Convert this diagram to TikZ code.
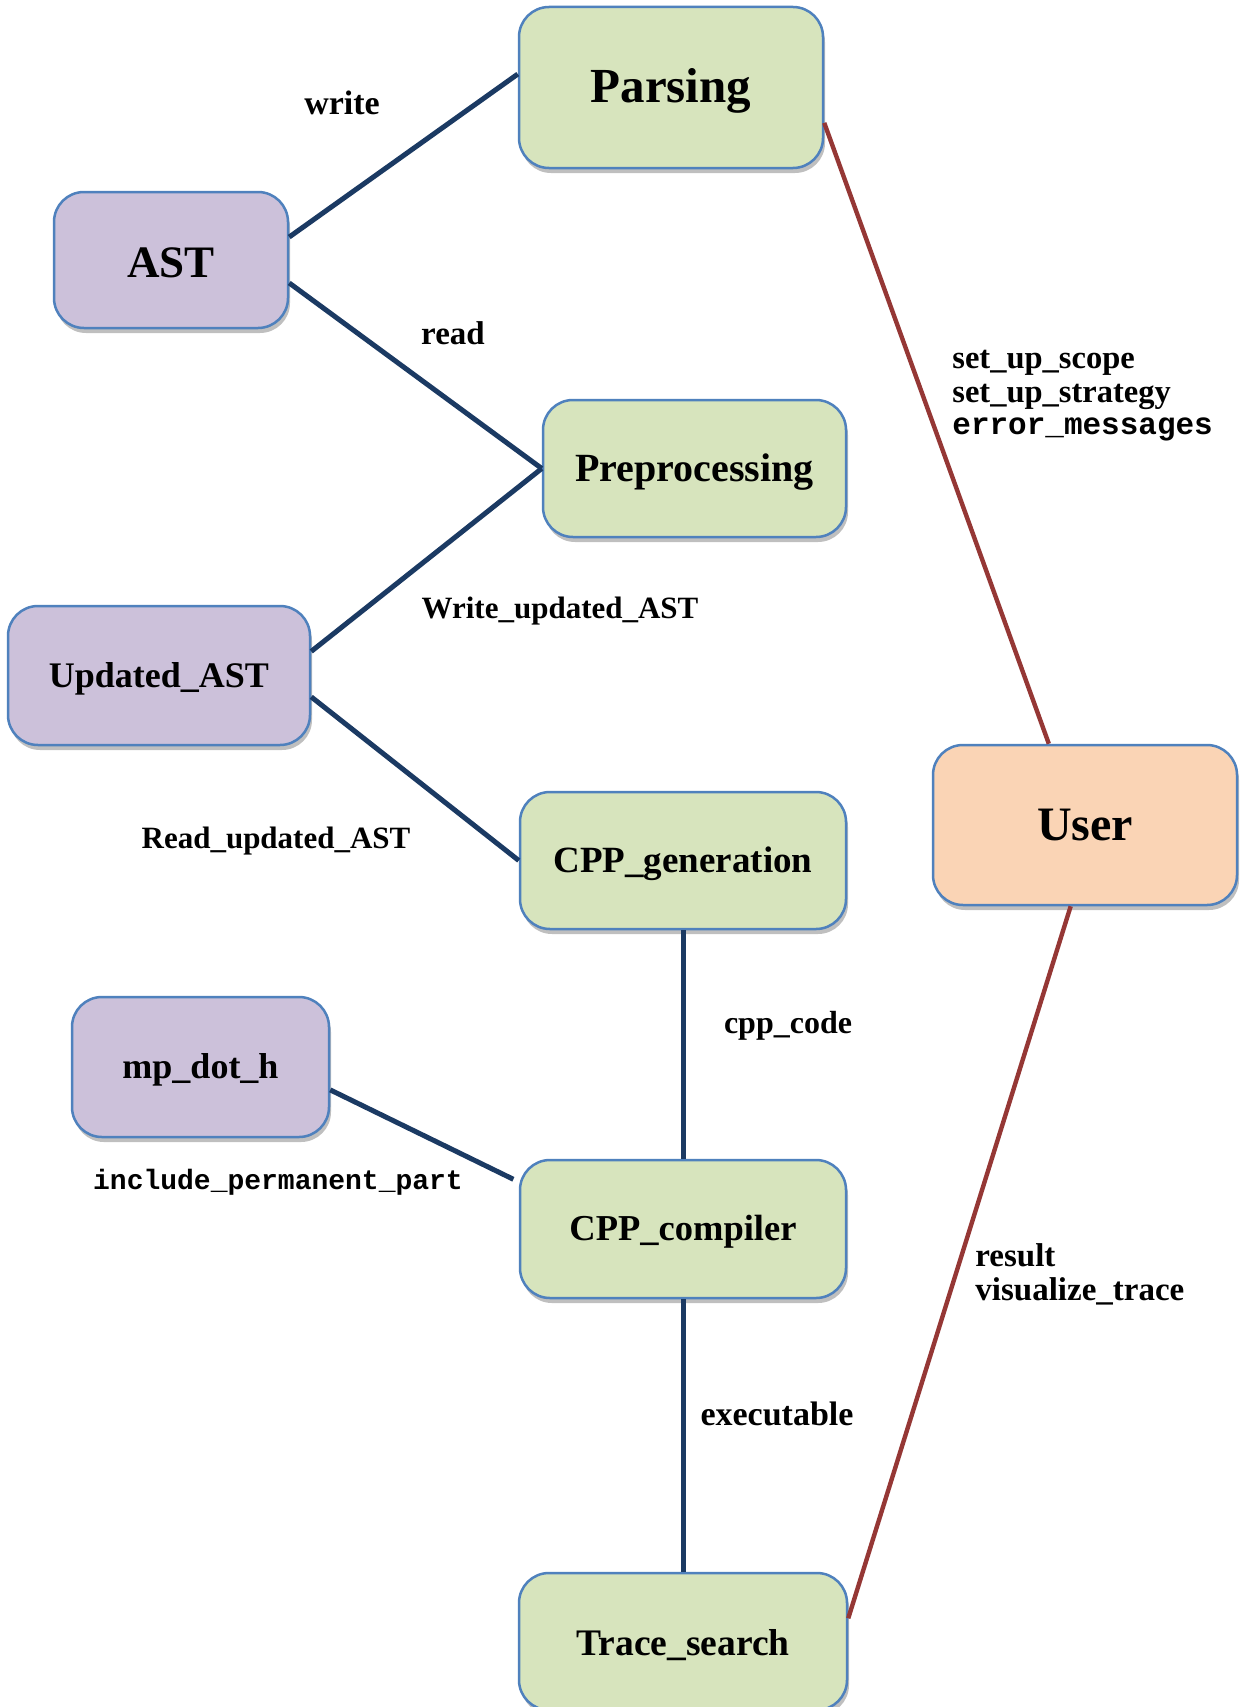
\documentclass[tikz,border=0pt]{standalone}
\usepackage{fontspec}
\setmainfont{Liberation Serif}
\setmonofont{Liberation Mono}
\usetikzlibrary{shadows}
\definecolor{boxblue}{HTML}{4F81BD}
\definecolor{boxgreen}{HTML}{D7E4BD}
\definecolor{boxpurple}{HTML}{CCC1DA}
\definecolor{boxorange}{HTML}{FAD4B5}
\definecolor{navy}{HTML}{1B3A63}
\definecolor{darkred}{HTML}{953735}
\newcommand\lowertext[1]{\raisebox{-1.6pt}[\height][\depth]{#1}}
\begin{document}
\begin{tikzpicture}[x=0.5pt,y=-0.5pt,
  box/.style={draw=boxblue, line width=1.25pt, rounded corners=15pt, inner sep=0pt,
    drop shadow={shadow xshift=1pt, shadow yshift=-2.5pt, opacity=0.25, fill=black}, text=black},
  gbox/.style={box, fill=boxgreen},
  pbox/.style={box, fill=boxpurple},
  obox/.style={box, fill=boxorange},
  lbl/.style={inner sep=0pt, font=\bfseries\fontsize{16}{19}\selectfont},
  nline/.style={draw=navy, line width=2.5pt},
  rline/.style={draw=darkred, line width=2.2pt}]
\useasboundingbox (0,0) rectangle (1239,1707);
\fill[white] (0,0) rectangle (1239,1707);

% nodes
\node[gbox, minimum width=152pt, minimum height=80.5pt, font=\bfseries\fontsize{24.5}{29}\selectfont] (parsing) at (671,87.5) {\lowertext{Parsing}};
\node[pbox, minimum width=117pt, minimum height=68pt, font=\bfseries\fontsize{22.5}{27}\selectfont] (ast) at (171,260) {\lowertext{AST}};
\node[gbox, minimum width=151.5pt, minimum height=68.5pt, font=\bfseries\fontsize{20}{24}\selectfont] (prep) at (694.5,468.5) {\lowertext{Preprocessing}};
\node[pbox, minimum width=151pt, minimum height=69.5pt, font=\bfseries\fontsize{18}{22}\selectfont] (uast) at (159,675.5) {\lowertext{Updated\_AST}};
\node[gbox, minimum width=163pt, minimum height=68.5pt, font=\bfseries\fontsize{18.5}{22}\selectfont] (cppgen) at (683,860.5) {\lowertext{CPP\_generation}};
\node[pbox, minimum width=128.5pt, minimum height=70pt, font=\bfseries\fontsize{18}{22}\selectfont] (mpdoth) at (200.5,1067) {\lowertext{mp\_dot\_h}};
\node[gbox, minimum width=163pt, minimum height=69pt, font=\bfseries\fontsize{18.25}{22}\selectfont] (cppcomp) at (683,1229) {\lowertext{CPP\_compiler}};
\node[gbox, minimum width=164pt, minimum height=68.5pt, font=\bfseries\fontsize{18.75}{22}\selectfont] (trace) at (683,1641.5) {\lowertext{Trace\_search}};
\node[obox, minimum width=152pt, minimum height=80pt, font=\bfseries\fontsize{24}{29}\selectfont] (user) at (1085,825) {User};

% connectors
\draw[nline] (ast.11.6) -- (parsing.175.7);
\draw[nline] (ast.-11.6) -- (prep.west);
\draw[nline] (uast.9.2) -- (prep.west);
\draw[nline] (uast.-8.85) -- (cppgen.west);
\draw[nline] (cppgen.south) -- (cppcomp.north);
\draw[nline, shorten >=3pt] (mpdoth.-10.2) -- (cppcomp.164);
\draw[nline] (cppcomp.south) -- (trace.north);
\draw[rline] (parsing.-13.2) -- (user.114.2);
\draw[rline] (user.260.8) -- (trace.8.6);

% labels
\node[lbl, font=\bfseries\fontsize{17}{20}\selectfont] (lwrite) at (342,103) {write};
\node[lbl, font=\bfseries\fontsize{16.5}{20}\selectfont] (lread) at (453,333) {read};
\node[lbl, font=\bfseries\fontsize{15.5}{19}\selectfont] (lwua) at (560,611) {Write\_updated\_AST};
\node[lbl, font=\bfseries\fontsize{15.5}{19}\selectfont] (lrua) at (276,841) {Read\_updated\_AST};
\node[lbl] (lcpp) at (788,1026) {cpp\_code};
\node[lbl, font=\bfseries\fontsize{17}{20}\selectfont] (lexe) at (777,1414) {executable};
\node[lbl, font=\ttfamily\bfseries\fontsize{14}{17}\selectfont] (linc) at (278,1182) {include\_permanent\_part};
\node[lbl, anchor=base west, font=\bfseries\fontsize{16.25}{19}\selectfont] (lscope) at (952,368) {set\_up\_scope};
\node[lbl, anchor=base west, font=\bfseries\fontsize{16.25}{19}\selectfont] (lstrat) at (952,402) {set\_up\_strategy};
\node[lbl, anchor=base west, font=\ttfamily\bfseries\fontsize{15.5}{19}\selectfont] (lerr) at (952,434) {error\_messages};
\node[lbl, anchor=base west, font=\bfseries\fontsize{16.5}{19}\selectfont] (lres) at (975,1266) {result};
\node[lbl, anchor=base west, font=\bfseries\fontsize{16.5}{19}\selectfont] (lvis) at (975,1300) {visualize\_trace};
\end{tikzpicture}
\end{document}
